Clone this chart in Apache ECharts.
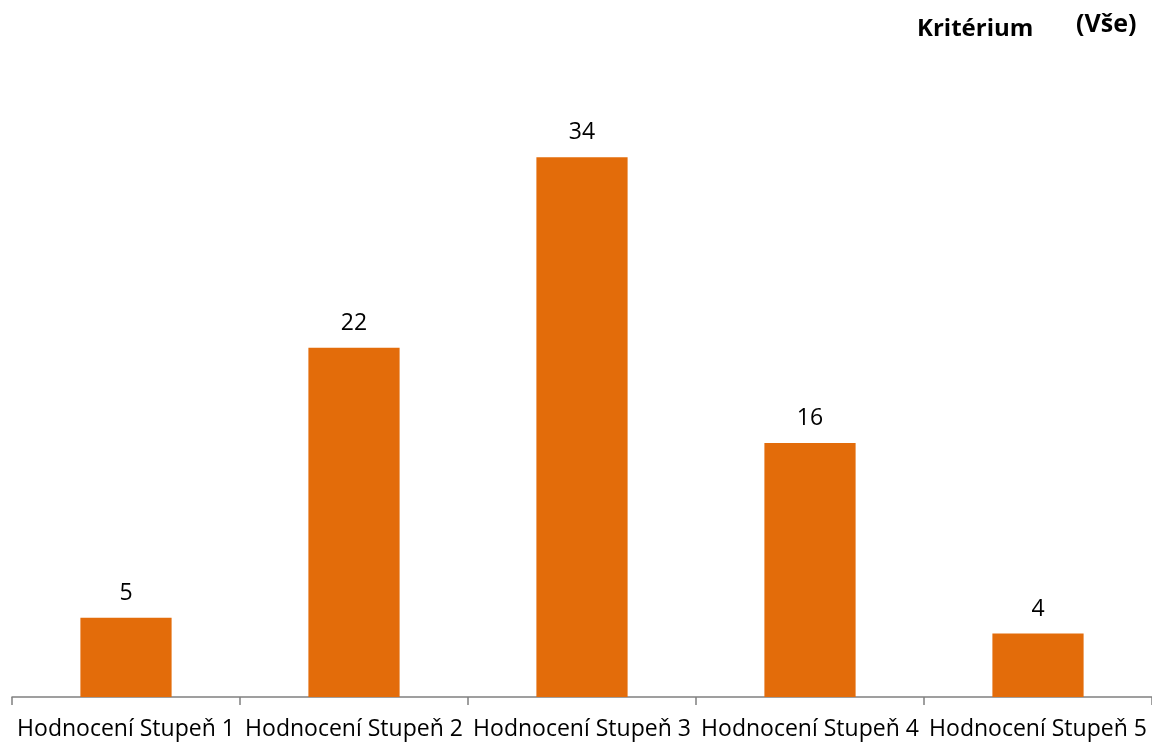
<!DOCTYPE html>
<html>
<head>
<meta charset="utf-8">
<script src="https://cdn.jsdelivr.net/npm/echarts@6/dist/echarts.min.js"></script>
<style>
html,body{margin:0;padding:0;background:#fff;}
#c{width:1152px;height:747px;}
</style>
</head>
<body>
<div id="c"></div>
<script>
const categories = ["Hodnocení Stupeň 1","Hodnocení Stupeň 2","Hodnocení Stupeň 3","Hodnocení Stupeň 4","Hodnocení Stupeň 5"];
const values = [5, 22, 34, 16, 4];
const filterLabel = "Kritérium";
const filterValue = "(Vše)";

const chart = echarts.init(document.getElementById('c'));
chart.setOption({
  animation: false,
  backgroundColor: '#ffffff',
  graphic: [
    {type:'text', left: 917, top: 17, style:{text: filterLabel, font: 'bold 24px "Open Sans", sans-serif', fill:'#000'}},
    {type:'text', left: 1076, top: 12, style:{text: filterValue, font: 'bold 25px "Open Sans", sans-serif', fill:'#000'}}
  ],
  grid: {left: 12, right: 0, top: 62, bottom: 50, containLabel: false},
  xAxis: {
    type: 'category',
    data: categories,
    axisLine: {show: true, lineStyle: {color: '#808080', width: 1.5}},
    axisTick: {show: true, length: 8, lineStyle: {color: '#808080', width: 1.5}},
    axisLabel: {color: '#000', fontSize: 23, fontFamily: '"Open Sans", sans-serif', margin: 21, interval: 0}
  },
  yAxis: {
    type: 'value', min: 0, max: 40, show: false,
    splitLine: {show: false}
  },
  series: [{
    type: 'bar',
    data: values,
    barWidth: '40%',
    itemStyle: {color: '#E36C0A'},
    label: {show: true, position: 'top', distance: 13, color: '#000', fontSize: 23, fontFamily: '"Open Sans", sans-serif'}
  }]
});
</script>
</body>
</html>
